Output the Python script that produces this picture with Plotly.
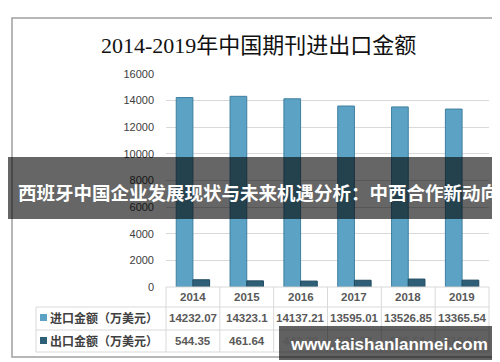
import plotly.graph_objects as go

# ---------------- data ----------------
years = ["2014", "2015", "2016", "2017", "2018", "2019"]
import_values = [14232.07, 14323.1, 14137.21, 13595.01, 13526.85, 13365.54]
export_values = [544.35, 461.64, 443.78, 506.37, 595.54, 516.34]
series_names = ["进口金额（万美元）", "出口金额（万美元）"]
title_text = "2014-2019年中国期刊进出口金额"
banner_text = "西班牙中国企业发展现状与未来机遇分析：中西合作新动向"
watermark_text = "www.taishanlanmei.com"
y_ticks = [0, 2000, 4000, 6000, 8000, 10000, 12000, 14000, 16000]

# ---------------- layout helpers ----------------
WID, HEI = 500, 362
L, R, T, B = 158, 481, 66, 279
PW, PH = R - L, B - T


def px(x):
    return (x - L) / PW


def py(y):
    return (B - y) / PH


IMP_COLOR = "#5ba2c4"
EXP_COLOR = "#2f5f77"
GRID = "#d9d9d9"
TXT = "#595959"

fig = go.Figure()
fig.add_trace(go.Bar(x=years, y=import_values, name=series_names[0],
                     marker=dict(color=IMP_COLOR, line=dict(color="#3f7f9f", width=1))))
fig.add_trace(go.Bar(x=years, y=export_values, name=series_names[1],
                     marker=dict(color=EXP_COLOR, line=dict(color="#1f4a60", width=1))))

shapes = []
annots = []

# outer frame
shapes.append(dict(type="rect", xref="paper", yref="paper",
                   x0=px(4), x1=px(496), y0=py(10), y1=py(349),
                   line=dict(color="#a0a0a0", width=1.5), fillcolor="rgba(0,0,0,0)", layer="below"))

# table lines
col_edges = [158 + i * (R - 158) / 6 for i in range(7)]
shapes.append(dict(type="line", xref="paper", yref="paper", x0=px(158), x1=px(R), y0=py(279), y1=py(279),
                   line=dict(color=GRID, width=1)))
for yy in [299, 322, 344]:
    shapes.append(dict(type="line", xref="paper", yref="paper", x0=px(28), x1=px(R), y0=py(yy), y1=py(yy),
                       line=dict(color=GRID, width=1)))
shapes.append(dict(type="line", xref="paper", yref="paper", x0=px(28), x1=px(28), y0=py(299), y1=py(344),
                   line=dict(color=GRID, width=1)))
for xe in col_edges:
    shapes.append(dict(type="line", xref="paper", yref="paper", x0=px(xe), x1=px(xe), y0=py(279), y1=py(344),
                       line=dict(color=GRID, width=1)))

# year header and values (x given as category index on the category axis)
cell_font = dict(family="Liberation Sans", size=11.5, color=TXT, weight="bold")
row_y = [309.5, 332.5]
for i, yr in enumerate(years):
    annots.append(dict(x=i, xref="x", y=py(289), yref="paper", text=yr, showarrow=False,
                       xanchor="center", yanchor="middle", font=cell_font))
    annots.append(dict(x=i, xref="x", y=py(row_y[0]), yref="paper", text=str(import_values[i]),
                       showarrow=False, xanchor="center", yanchor="middle", font=cell_font))
    annots.append(dict(x=i, xref="x", y=py(row_y[1]), yref="paper", text=str(export_values[i]),
                       showarrow=False, xanchor="center", yanchor="middle", font=cell_font))

# row labels with legend keys
for k, (nm, col) in enumerate(zip(series_names, [IMP_COLOR, EXP_COLOR])):
    yc = row_y[k]
    shapes.append(dict(type="rect", xref="paper", yref="paper", x0=px(32), x1=px(39),
                       y0=py(yc + 3.5), y1=py(yc - 3.5), fillcolor=col, line=dict(width=0)))
    annots.append(dict(x=px(39.5), xref="paper", y=py(yc), yref="paper", text=nm, showarrow=False,
                       xanchor="left", yanchor="middle",
                       font=dict(family="Noto Sans CJK SC", size=12, color="#404040", weight="bold")))

# title
annots.append(dict(x=px(250), xref="paper", y=py(37), yref="paper", text=title_text, showarrow=False,
                   xanchor="center", yanchor="middle",
                   font=dict(family="Liberation Serif, Noto Sans CJK SC", size=22, color="#111111")))

# banner overlay
shapes.append(dict(type="rect", xref="paper", yref="paper", x0=px(0), x1=px(500), y0=py(149), y1=py(211),
                   fillcolor="rgba(0,0,0,0.6)", line=dict(width=0), layer="above"))
annots.append(dict(x=px(250), xref="paper", y=py(184), yref="paper", text=banner_text, showarrow=False,
                   xanchor="center", yanchor="middle",
                   font=dict(family="Noto Sans CJK SC", size=18.5, color="white", weight="bold")))

# watermark
shapes.append(dict(type="rect", xref="paper", yref="paper", x0=px(271), x1=px(491), y0=py(318), y1=py(352),
                   fillcolor="rgba(0,0,0,0.62)", line=dict(width=0), layer="above"))
annots.append(dict(x=px(381), xref="paper", y=py(336), yref="paper", text=watermark_text, showarrow=False,
                   xanchor="center", yanchor="middle",
                   font=dict(family="Liberation Sans", size=17, color="white", weight="bold")))

fig.update_layout(
    width=WID, height=HEI,
    margin=dict(l=L, r=WID - R, t=T, b=HEI - B, pad=0),
    paper_bgcolor="white", plot_bgcolor="white",
    showlegend=False,
    barmode="group", bargap=0.38, bargroupgap=0,
    shapes=shapes, annotations=annots,
    xaxis=dict(type="category", showticklabels=False, showline=False, showgrid=False, zeroline=False,
               ticks="", range=[-0.5, 5.5]),
    yaxis=dict(range=[0, 16000], tickvals=y_ticks, tickformat="d", showgrid=True, gridcolor=GRID,
               gridwidth=1, zeroline=False, showline=False, ticks="", ticklabelstandoff=11,
               tickfont=dict(family="Liberation Sans", size=11, color="#404040")),
)

fig.write_html("out.html")
